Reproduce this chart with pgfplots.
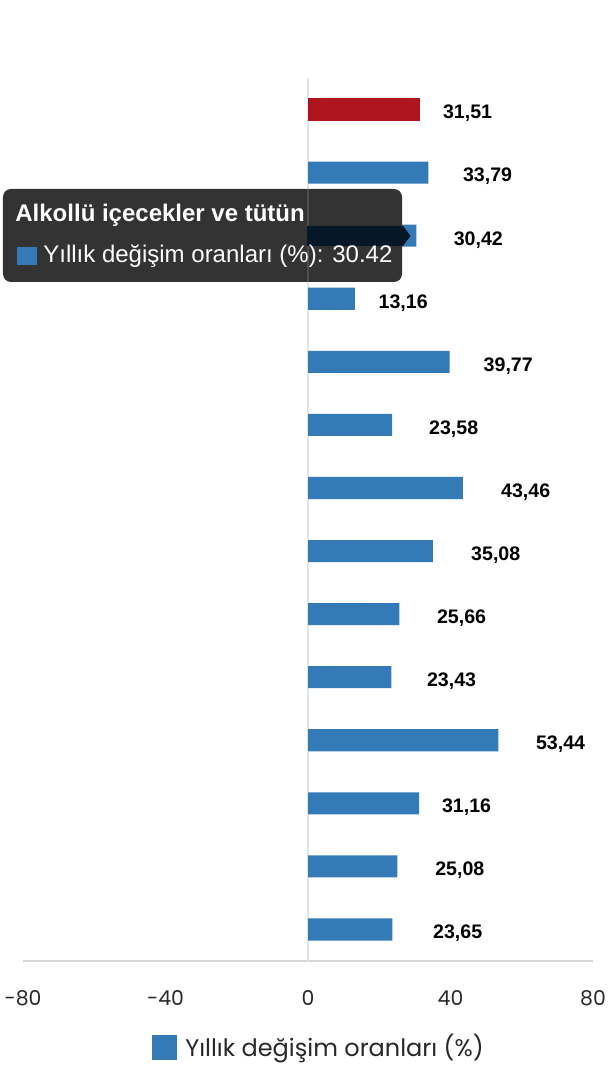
\documentclass[border=0pt]{standalone}
\usepackage{pgfplots}
\usepackage{pgfplotstable}
\pgfplotsset{compat=1.18}
\usepackage{fontspec}
\setmainfont{Liberation Sans}
\newfontfamily\poppins{Poppins}

\definecolor{barblue}{RGB}{51,122,183}
\definecolor{barred}{RGB}{175,21,30}
\definecolor{gridc}{RGB}{225,230,237}
\definecolor{axisc}{RGB}{216,216,216}
\definecolor{tickc}{RGB}{40,40,40}
\definecolor{tipbg}{RGB}{51,51,51}
\definecolor{tipnavy}{RGB}{6,24,40}

% i = row (0 at top), v = yearly change, lx = where the value label sits
\pgfplotstableread{
i v
1 33.79
2 30.42
3 13.16
4 39.77
5 23.58
6 43.46
7 35.08
8 25.66
9 23.43
10 53.44
11 31.16
12 25.08
13 23.65
}\bluedata
\pgfplotstableread{
i v
0 31.51
}\reddata
\pgfplotstableread{
i lx lab
0 44.8 31,51
1 50.4 33,79
2 47.8 30,42
3 26.7 13,16
4 56.2 39,77
5 40.9 23,58
6 61.1 43,46
7 52.7 35,08
8 43.1 25,66
9 40.3 23,43
10 70.9 53,44
11 44.5 31,16
12 42.6 25,08
13 42.0 23,65
}\labeldata

\begin{document}
\begin{tikzpicture}
\path[use as bounding box] (-11.5pt,-59.5pt) rectangle (293.5pt,480.5pt);
\begin{axis}[
  at={(0,0)}, anchor=south west,
  scale only axis, width=285pt, height=441.5pt,
  xmin=-80, xmax=80, ymin=-0.5, ymax=13.5, y dir=reverse,
  axis y line=none, axis x line*=bottom,
  axis line style={axisc, line width=0.6pt, -},
  xtick={-80,-40,0,40,80}, xticklabels={-80,-40,0,40,80},
  major tick length=0pt,
  xticklabel style={font=\poppins\fontsize{10.2}{12}\selectfont, text=tickc, anchor=center, yshift=-18.5pt},
  extra x ticks={0}, extra x tick labels={},
  extra x tick style={grid=major, major grid style={gridc, line width=0.7pt}},
  bar width=0.35,
  legend style={draw=none, fill=none, at={(0.5,0)}, anchor=center, xshift=6pt, yshift=-43pt,
    font=\poppins\fontsize{12}{14}\selectfont, text=tickc},
  legend image code/.code={\fill[barblue] (0pt,-6.25pt) rectangle (12.5pt,6.25pt); \path (14.5pt,0pt);},
  clip=false,
]
\addplot[xbar, bar shift=0pt, draw=none, fill=barblue] table[x=v, y=i] {\bluedata};
\addlegendentry{Yıllık değişim oranları (\%)}
\addplot[xbar, bar shift=0pt, draw=none, fill=barred, forget plot] table[x=v, y=i] {\reddata};
\addplot[draw=none, mark=none, forget plot, nodes near coords, point meta=explicit symbolic,
  every node near coord/.append style={anchor=center, yshift=-2pt, font=\bfseries\fontsize{9.8}{11}\selectfont, text=black}]
  table[x=lx, y=i, meta=lab] {\labeldata};
\end{axis}
% tooltip over the third bar
\fill[tipbg, rounded corners=4pt] (-10pt,339.5pt) rectangle (189.5pt,386pt);
\draw[gridc, opacity=0.15, line width=0.7pt] (142.5pt,339.5pt) -- (142.5pt,386pt);
\fill[tipnavy] (142pt,357.5pt) -- (190pt,357.5pt) -- (193.75pt,362.5pt) -- (190pt,367.6pt) -- (142pt,367.6pt) -- cycle;
\node[anchor=base west, inner sep=0pt, text=white, font=\bfseries\fontsize{12}{14}\selectfont] at (-4pt,369.5pt) {Alkollü içecekler ve tütün};
\fill[barblue] (-3pt,348pt) rectangle (7pt,357pt);
\node[anchor=base west, inner sep=0pt, text=white, font=\fontsize{12}{14}\selectfont] at (10pt,349pt) {Yıllık değişim oranları (\%): 30.42};
\end{tikzpicture}
\end{document}
